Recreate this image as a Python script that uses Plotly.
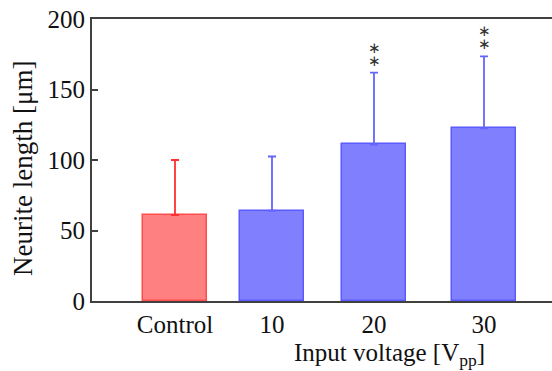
import plotly.graph_objects as go

categories = ["Control", "10", "20", "30"]
means = [61, 64, 111, 122.5]
sd_upper = [39, 38.5, 51, 51]
significance = [0, 0, 2, 2]  # number of stacked asterisks
y_ticks = [0, 50, 100, 150, 200]

# layout positions (uneven category spacing as in the original)
x_pos = [0.83, 1.80, 2.82, 3.92]
fills = ["#ff8080", "#8080ff", "#8080ff", "#8080ff"]
edges = ["#ff4d4d", "#5a5aff", "#5a5aff", "#5a5aff"]
err_colors = ["#ff3030", "#6464ff", "#6464ff", "#6464ff"]

serif = "Liberation Serif, Times New Roman, serif"
W, H = 552, 371
L, R, T, B = 92, 0, 19, 70
pw, ph = W - L - R, H - T - B

fig = go.Figure()
for i in range(len(categories)):
    fig.add_trace(go.Bar(
        x=[x_pos[i]], y=[means[i]], width=0.64,
        marker=dict(color=fills[i], line=dict(color=edges[i], width=1.5)),
        error_y=dict(type="data", symmetric=False, array=[sd_upper[i]],
                     arrayminus=[0], color=err_colors[i], thickness=1.8, width=4),
        showlegend=False, hoverinfo="skip",
    ))
    for k in range(significance[i]):
        fig.add_annotation(x=x_pos[i], y=means[i] + sd_upper[i], text="∗",
                           showarrow=False, yanchor="middle", yshift=12 + 13 * k,
                           font=dict(family="DejaVu Sans", size=15, color="#333333"))

fig.add_annotation(xref="paper", yref="paper", x=(389 - L) / pw, y=(H - B - 354) / ph,
                   text="Input voltage [V<sub>pp</sub>]", showarrow=False,
                   yanchor="middle", xanchor="center",
                   font=dict(family=serif, size=25, color="#111111"))
fig.add_annotation(xref="paper", yref="paper", x=(23 - L) / pw, y=(H - B - 169) / ph,
                   text="Neurite length [μm]", showarrow=False, textangle=-90,
                   xanchor="center", yanchor="middle",
                   font=dict(family=serif, size=27, color="#111111"))

fig.update_layout(
    width=W, height=H,
    margin=dict(l=L, r=R, t=T, b=B),
    paper_bgcolor="white", plot_bgcolor="white",
    bargap=0,
    xaxis=dict(range=[0, 4.6], tickvals=x_pos, ticktext=categories,
               showline=True, mirror=True, linecolor="#404040", linewidth=2,
               showgrid=False, zeroline=False, ticks="",
               tickfont=dict(family=serif, size=25, color="#111111"),
               fixedrange=True),
    yaxis=dict(range=[0, 200], tickvals=y_ticks,
               showline=True, linecolor="#404040", linewidth=2,
               showgrid=False, zeroline=False,
               ticks="inside", ticklen=6, tickwidth=2, tickcolor="#404040",
               tickfont=dict(family=serif, size=25, color="#111111"),
               fixedrange=True),
)

fig.write_html("out.html", config={"displayModeBar": False},
               post_script="document.body.style.margin='0';document.body.style.overflow='hidden';")
